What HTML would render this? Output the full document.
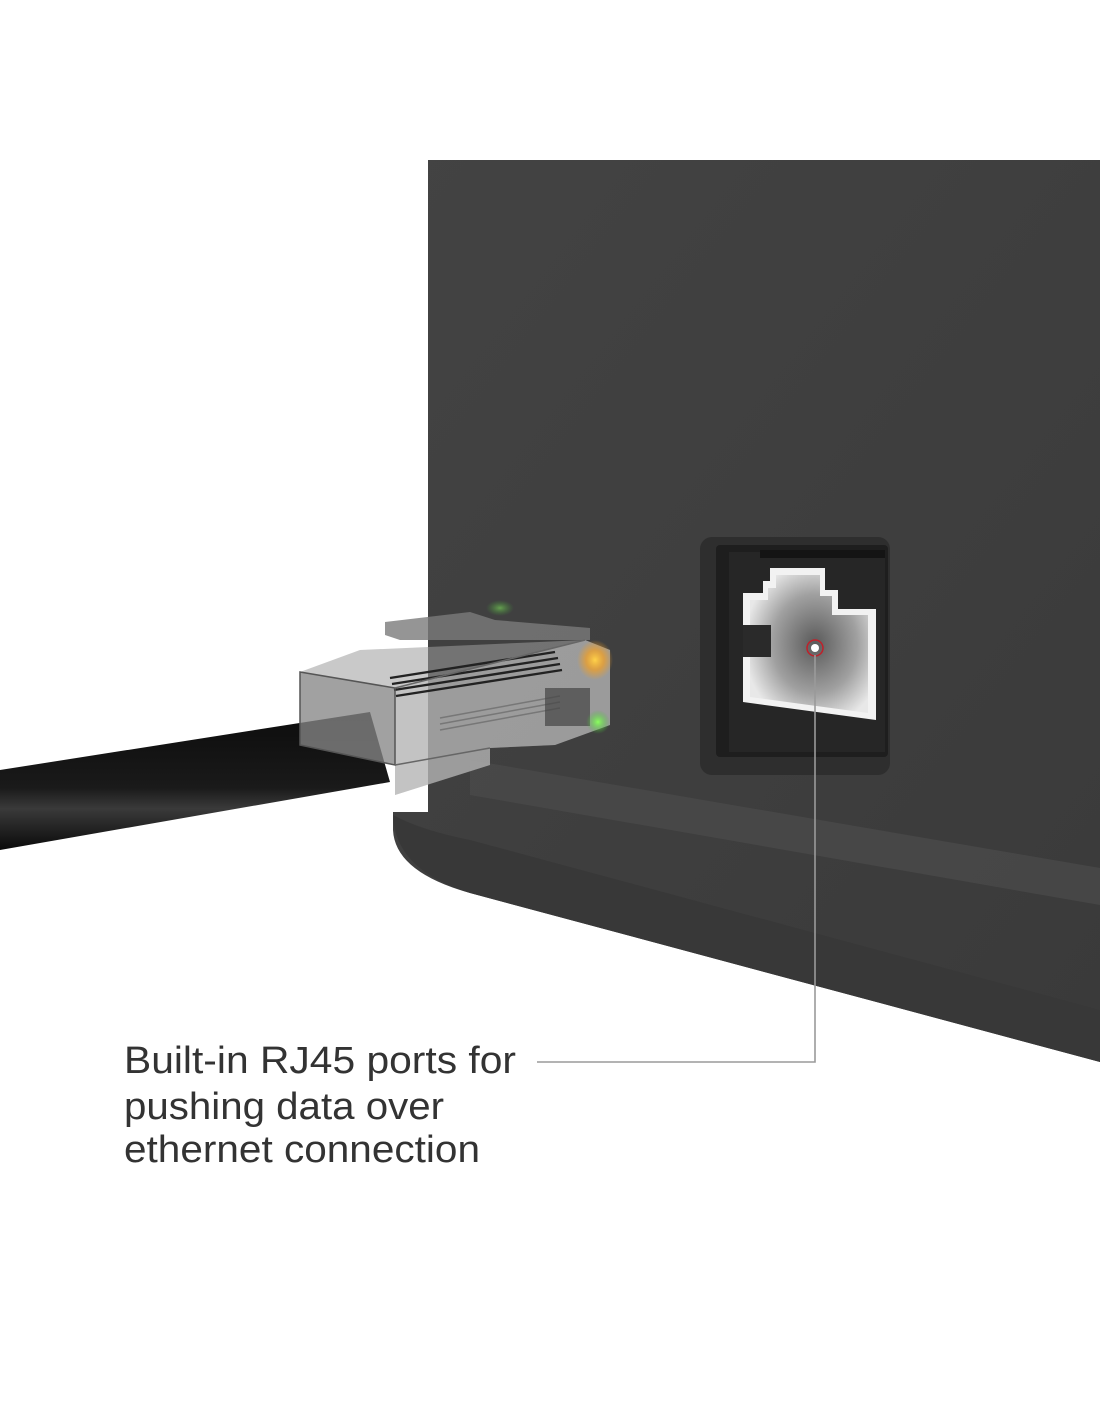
<!DOCTYPE html>
<html><head><meta charset="utf-8"><style>
html,body{margin:0;padding:0;background:#fff;}
svg{display:block;}
</style></head><body>
<svg width="1100" height="1422" viewBox="0 0 1100 1422" xmlns="http://www.w3.org/2000/svg">
<defs>
<linearGradient id="body" x1="0" y1="0" x2="1" y2="1">
<stop offset="0" stop-color="#434343"/><stop offset="1" stop-color="#3a3a3a"/>
</linearGradient>
<radialGradient id="hole" cx="0.55" cy="0.5" r="0.6">
<stop offset="0" stop-color="#5a5a5a"/><stop offset="0.6" stop-color="#a0a0a0"/><stop offset="1" stop-color="#e8e8e8"/>
</radialGradient>
<linearGradient id="cable" x1="0" y1="0" x2="0" y2="1">
<stop offset="0" stop-color="#0c0c0c"/><stop offset="0.55" stop-color="#1a1a1a"/><stop offset="0.7" stop-color="#3a3a3a"/><stop offset="1" stop-color="#0a0a0a"/>
</linearGradient>
<radialGradient id="amber"><stop offset="0" stop-color="#ffd24a"/><stop offset="0.5" stop-color="#f5a020" stop-opacity="0.7"/><stop offset="1" stop-color="#f5a020" stop-opacity="0"/></radialGradient>
<radialGradient id="green"><stop offset="0" stop-color="#8cff60"/><stop offset="1" stop-color="#40c030" stop-opacity="0"/></radialGradient>
</defs>

<!-- device body -->
<path d="M428 160 L1100 160 L1100 1062 L470 893 Q395 872 393 830 L393 812 L428 812 Z" fill="url(#body)"/>
<!-- base lip highlight -->
<path d="M470 760 L1100 868 L1100 905 L470 795 Z" fill="#4b4b4b" opacity="0.7"/>
<path d="M393 815 Q395 870 470 893 L1100 1062 L1100 1010 L470 840 Q420 830 393 815 Z" fill="#383838"/>

<!-- port recess -->
<rect x="700" y="537" width="190" height="238" rx="12" fill="#2e2e2e"/>
<rect x="716" y="545" width="172" height="212" rx="4" fill="#1e1e1e"/>
<rect x="729" y="552" width="156" height="200" fill="#262626"/>
<path d="M743 593 L763 593 L763 581 L770 581 L770 568 L825 568 L825 590 L838 590 L838 609 L876 609 L876 720 L743 702 Z" fill="#f2f2f2"/>
<path d="M750 600 L768 600 L768 588 L776 588 L776 575 L820 575 L820 596 L832 596 L832 615 L868 615 L868 713 L750 697 Z" fill="url(#hole)"/>
<rect x="743" y="625" width="28" height="32" fill="#2a2a2a"/>
<rect x="760" y="550" width="125" height="8" fill="#141414"/>
<circle cx="815" cy="648" r="8" fill="none" stroke="#c0202a" stroke-width="1.5"/>
<circle cx="815" cy="648" r="4" fill="#fff"/>

<!-- callout line -->
<polyline points="815,655 815,1062 537,1062" fill="none" stroke="#9a9a9a" stroke-width="1.6"/>

<!-- cable -->
<path d="M0 770 L370 712 L390 782 L0 850 Z" fill="url(#cable)"/>

<!-- plug -->
<path d="M300 672 L360 650 L585 640 L610 650 L610 725 L555 745 L490 748 L490 765 L395 795 L395 765 L300 745 Z" fill="#9c9c9c" opacity="0.55"/>
<path d="M300 672 L395 688 L395 765 L300 745 Z" fill="#7a7a7a" opacity="0.5"/>
<path d="M395 688 L585 640 L610 650 L610 725 L555 745 L490 748 L490 765 L395 795 Z" fill="#bdbdbd" opacity="0.55"/>
<g stroke="#222" stroke-width="2.4">
<line x1="390" y1="678" x2="555" y2="652"/><line x1="392" y1="684" x2="558" y2="658"/><line x1="394" y1="690" x2="560" y2="664"/><line x1="396" y1="696" x2="562" y2="670"/>
</g>
<g stroke="#777" stroke-width="1.5">
<line x1="440" y1="718" x2="560" y2="696"/><line x1="440" y1="724" x2="560" y2="702"/><line x1="440" y1="730" x2="560" y2="708"/>
</g>
<rect x="545" y="688" width="45" height="38" fill="#444" opacity="0.7"/>
<path d="M385 622 L470 612 L495 620 L590 628 L590 640 L505 640 L400 640 L385 635 Z" fill="#7a7a7a" opacity="0.8"/>
<path d="M300 672 L395 688 L395 765 L300 745 Z" fill="none" stroke="#555" stroke-width="1.5"/>
<path d="M395 688 L585 640 M395 765 L490 748" stroke="#666" stroke-width="1.5" fill="none"/>
<ellipse cx="595" cy="660" rx="18" ry="20" fill="url(#amber)"/>
<ellipse cx="598" cy="722" rx="12" ry="12" fill="url(#green)"/>
<ellipse cx="500" cy="608" rx="14" ry="8" fill="url(#green)" opacity="0.5"/>

<!-- label -->
<g font-family="'Liberation Sans', Arial, sans-serif" font-size="38" fill="#333">
<text x="124" y="1073" textLength="392" lengthAdjust="spacingAndGlyphs">Built-in RJ45 ports for</text>
<text x="124" y="1119" textLength="320" lengthAdjust="spacingAndGlyphs">pushing data over</text>
<text x="124" y="1162" textLength="356" lengthAdjust="spacingAndGlyphs">ethernet connection</text>
</g>
</svg>
</body></html>
